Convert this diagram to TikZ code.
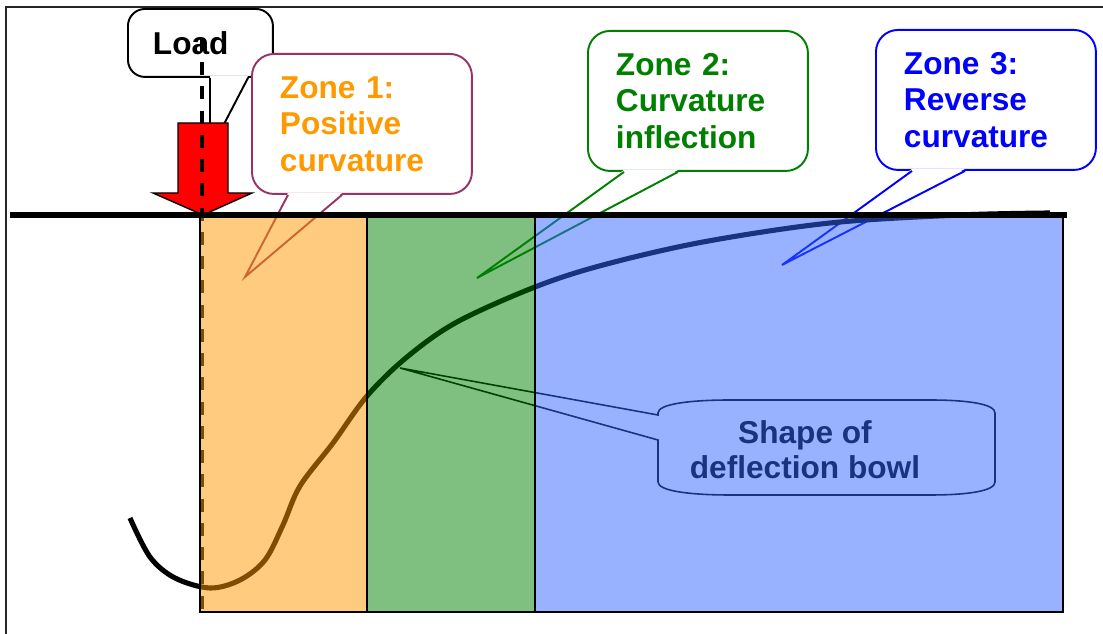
\documentclass[tikz,border=0pt]{standalone}
\usepackage{fontspec}
\newfontfamily\arialfont{Liberation Sans}
\usetikzlibrary{calc}
\definecolor{zorange}{RGB}{255,153,0}
\definecolor{zgreen}{RGB}{0,128,0}
\definecolor{zblue}{RGB}{51,102,255}
\definecolor{zpurple}{RGB}{153,51,102}
\definecolor{zbluetext}{RGB}{0,0,255}
\tikzset{
  calloutbox/.style={draw, fill=white, line width=1.1pt, rounded corners=0.44cm, anchor=north west,
    align=left, minimum width=4.4cm, minimum height=2.8cm, text width=3.28cm, inner xsep=0.56cm,
    font=\arialfont\bfseries\fontsize{18}{20.7}\selectfont},
  pointer/.style={line width=1.1pt},
  zone/.style={fill opacity=0.5, draw=black, line width=1.1pt},
}
\begin{document}
\begin{tikzpicture}[x=0.02cm, y=-0.02cm]
  \useasboundingbox (0,0) rectangle (1103,634);
  % frame
  \draw[line width=1.1pt, black!85] (6,634) -- (6,7) -- (1103,7);
  % load callout
  \node[calloutbox, rounded corners=0.34cm, minimum width=2.9cm, minimum height=1.36cm,
        text width=1.9cm, inner xsep=0.5cm] (load) at (127,8) {Load};
  \coordinate (loadtip) at (210,151);
  \fill[white] ($(load.south west)+(83,-2)$) -- (loadtip) -- ($(load.south west)+(121,-2)$) -- cycle;
  \draw[pointer] ($(load.south west)+(83,0)$) -- (loadtip) -- ($(load.south west)+(121,0)$);
  % zone 1
  \node[calloutbox, draw=zpurple, text=zorange] (zone1) at (251,53) {Zone 1:\\Positive\\curvature};
  \coordinate (zone1tip) at (245,277);
  \fill[white] ($(zone1.south west)+(37,-2)$) -- (zone1tip) -- ($(zone1.south west)+(91,-2)$) -- cycle;
  \draw[pointer, zpurple] ($(zone1.south west)+(37,0)$) -- (zone1tip) -- ($(zone1.south west)+(91,0)$);
  % zone 2
  \node[calloutbox, draw=zgreen, text=zgreen] (zone2) at (587,30) {Zone 2:\\Curvature\\inflection};
  \coordinate (zone2tip) at (477,278);
  \fill[white] ($(zone2.south west)+(37,-2)$) -- (zone2tip) -- ($(zone2.south west)+(91,-2)$) -- cycle;
  \draw[pointer, zgreen] ($(zone2.south west)+(37,0)$) -- (zone2tip) -- ($(zone2.south west)+(91,0)$);
  % zone 3
  \node[calloutbox, draw=zbluetext, text=zbluetext] (zone3) at (875,29) {Zone 3:\\Reverse\\curvature};
  \coordinate (zone3tip) at (782,265);
  \fill[white] ($(zone3.south west)+(37,-2)$) -- (zone3tip) -- ($(zone3.south west)+(90,-2)$) -- cycle;
  \draw[pointer, zbluetext] ($(zone3.south west)+(37,0)$) -- (zone3tip) -- ($(zone3.south west)+(90,0)$);
  % deflection bowl callout
  \coordinate (bowltip) at (400,368);
  \draw[line width=0.9pt] (658,415) -- (bowltip) -- (658,440) -- (658,482)
    .. controls (658,491) and (690,495) .. (730,495) -- (930,495)
    .. controls (968,495) and (995,491) .. (995,482) -- (995,413)
    .. controls (995,404) and (968,400) .. (930,400) -- (730,400)
    .. controls (690,400) and (658,404) .. (658,413) -- cycle;
  \node[font=\arialfont\bfseries\fontsize{18}{19.8}\selectfont, align=center] (bowl) at (805,450)
    {Shape of\\deflection bowl};
  % load arrow
  \filldraw[fill=red, draw=black, line width=0.8pt] (178,123) -- (228,123) -- (228,193) -- (252,193)
    -- (203,215) -- (153,193) -- (178,193) -- cycle;
  \coordinate (loadtop) at (202,38);
  \coordinate (loadfoot) at (202,612);
  \draw[line width=2.8pt, dash pattern=on 7.4pt off 6.4pt] (loadtop) -- (loadfoot);
  % deflection curve
  \draw[line width=2.9pt] plot[smooth, tension=0.55] coordinates {(130,518) (150,557) (175,578)
    (210,588) (240,580) (265,560) (283,525) (300,486) (333,443) (367,396) (407,357) (457,322)
    (535,287) (603,265) (703,242) (830,223) (960,215) (1050,213)};
  % zones
  \filldraw[zone, fill=zorange] (200,215) rectangle (367,612);
  \filldraw[zone, fill=zgreen] (367,215) rectangle (535,612);
  \filldraw[zone, fill=zblue] (535,215) rectangle (1063,612);
  % surface
  \draw[line width=3pt] (10,215) -- (1067,215);
\end{tikzpicture}
\end{document}
